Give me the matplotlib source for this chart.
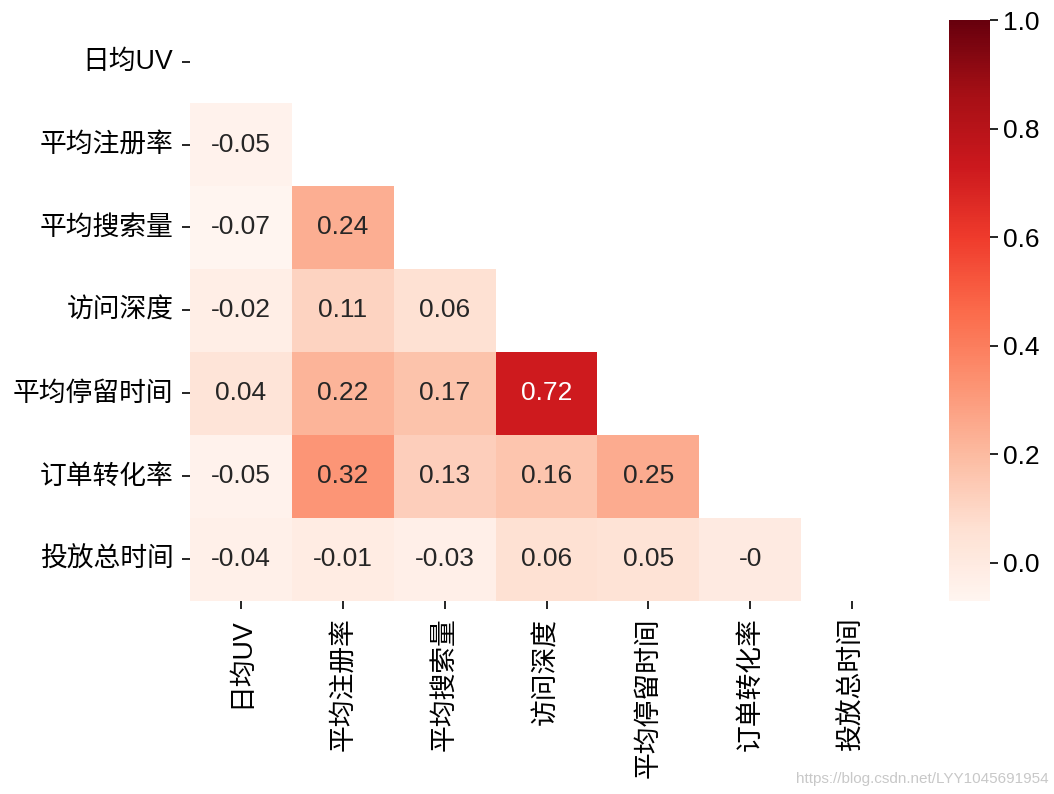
import matplotlib
matplotlib.use("Agg")
import matplotlib.pyplot as plt
import numpy as np
import pandas as pd
import seaborn as sns

# column names of the correlation matrix
names = ["日均UV", "平均注册率", "平均搜索量", "访问深度", "平均停留时间", "订单转化率", "投放总时间"]

# lower triangle of the correlation matrix, row by row
lower = [
    [],
    [-0.05],
    [-0.07, 0.24],
    [-0.02, 0.11, 0.06],
    [0.04, 0.22, 0.17, 0.72],
    [-0.05, 0.32, 0.13, 0.16, 0.25],
    [-0.04, -0.01, -0.03, 0.06, 0.05, -0.0],
]

n = len(names)
corr = np.eye(n)
for i, row in enumerate(lower):
    for j, v in enumerate(row):
        corr[i, j] = v
        corr[j, i] = v
df = pd.DataFrame(corr, index=names, columns=names)

plt.rcParams['font.family'] = ['Liberation Sans', 'Noto Sans CJK SC']
plt.rcParams['axes.unicode_minus'] = False

fig = plt.figure(figsize=(10.54, 7.94), dpi=100)
ax = fig.add_axes([0.1803, 0.2431, 0.6765, 0.7317])
cax = fig.add_axes([0.9004, 0.2431, 0.039, 0.7317])

mask = np.triu(np.ones_like(corr, dtype=bool))
sns.heatmap(df, mask=mask, cmap="Reds", vmin=-0.07, vmax=1.0, annot=True,
            annot_kws={"fontsize": 19}, ax=ax, cbar_ax=cax)

ax.set_xticklabels(names, rotation=90, fontsize=19.3)
ax.set_yticklabels(names, rotation=0, fontsize=19.3)
ax.tick_params(length=6, width=1.2, pad=6)
cax.tick_params(labelsize=19, length=6, width=1.2)
cax.set_yticks([0.0, 0.2, 0.4, 0.6, 0.8, 1.0])
cax.set_yticklabels(["0.0", "0.2", "0.4", "0.6", "0.8", "1.0"])

fig.text(0.995, 0.01, "https://blog.csdn.net/LYY1045691954", ha="right", va="bottom",
         fontsize=11, color="#c8c8c8")

fig.savefig("out.png", dpi=100)
